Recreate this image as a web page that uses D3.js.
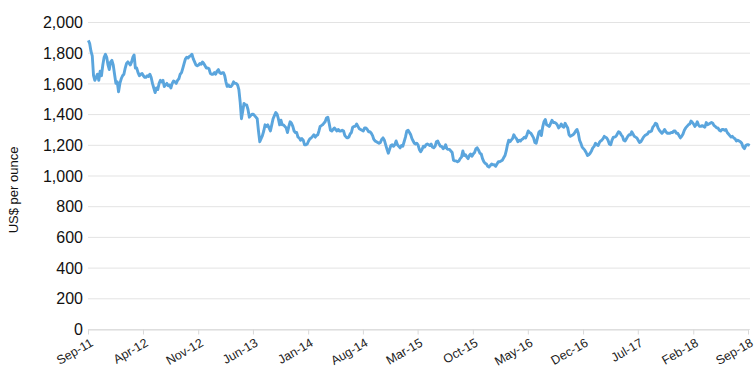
<!DOCTYPE html>
<html>
<head>
<meta charset="utf-8">
<script src="https://cdn.jsdelivr.net/npm/d3@7"></script>
<style>
  html, body { margin: 0; padding: 0; background: #fff; }
  svg { display: block; font-family: "Liberation Sans", Arial, sans-serif; }
</style>
</head>
<body>
<svg id="chart" width="754" height="374"></svg>
<script>
// ---- Data (gold price, US$ per ounce) ----
const startMonth = "2011-09";
// price samples per month, in order (Sep 2011 .. Sep 2018)
const monthlyPrices = [
  // 2011
  [1880, 1860, 1810, 1780, 1650, 1620],
  [1640, 1660, 1620, 1680, 1650, 1720],
  [1770, 1790, 1770, 1720, 1690, 1740],
  [1750, 1720, 1660, 1600, 1610, 1545],
  // 2012
  [1600, 1630, 1650, 1660, 1700, 1730],
  [1740, 1730, 1720, 1740, 1770, 1785],
  [1700, 1700, 1670, 1650, 1660, 1665],
  [1650, 1640, 1640, 1650, 1645, 1660],
  [1640, 1600, 1570, 1540, 1570, 1560],
  [1600, 1620, 1610, 1620, 1580, 1590],
  [1600, 1585, 1590, 1570, 1600, 1615],
  [1610, 1600, 1620, 1630, 1660, 1670],
  [1700, 1730, 1760, 1770, 1765, 1775],
  [1780, 1790, 1760, 1740, 1720, 1715],
  [1720, 1730, 1725, 1740, 1730, 1715],
  [1700, 1700, 1695, 1665, 1660, 1660],
  // 2013
  [1670, 1660, 1680, 1690, 1670, 1665],
  [1670, 1670, 1650, 1610, 1580, 1590],
  [1580, 1580, 1590, 1610, 1600, 1600],
  [1590, 1560, 1480, 1370, 1420, 1470],
  [1460, 1460, 1430, 1380, 1390, 1400],
  [1400, 1390, 1380, 1370, 1290, 1220],
  [1240, 1260, 1290, 1330, 1320, 1330],
  [1310, 1290, 1330, 1370, 1390, 1410],
  [1400, 1370, 1330, 1360, 1330, 1330],
  [1320, 1310, 1280, 1320, 1350, 1340],
  [1320, 1290, 1280, 1280, 1250, 1245],
  [1230, 1240, 1230, 1200, 1200, 1205],
  // 2014
  [1225, 1240, 1245, 1255, 1265, 1250],
  [1260, 1265, 1290, 1320, 1325, 1330],
  [1340, 1350, 1375, 1380, 1340, 1295],
  [1290, 1300, 1310, 1300, 1290, 1300],
  [1290, 1290, 1295, 1290, 1260, 1250],
  [1245, 1250, 1270, 1280, 1315, 1320],
  [1320, 1335, 1320, 1305, 1300, 1295],
  [1290, 1310, 1310, 1300, 1285, 1285],
  [1275, 1260, 1235, 1225, 1220, 1215],
  [1210, 1215, 1235, 1245, 1230, 1200],
  [1170, 1145, 1170, 1195, 1200, 1190],
  [1200, 1225, 1200, 1190, 1180, 1195],
  // 2015
  [1190, 1220, 1250, 1290, 1295, 1280],
  [1265, 1240, 1225, 1210, 1205, 1210],
  [1200, 1170, 1155, 1170, 1190, 1185],
  [1200, 1205, 1200, 1195, 1205, 1185],
  [1180, 1190, 1220, 1225, 1205, 1190],
  [1190, 1175, 1180, 1200, 1175, 1170],
  [1170, 1160, 1150, 1100, 1095, 1095],
  [1090, 1095, 1110, 1120, 1160, 1130],
  [1135, 1120, 1110, 1130, 1140, 1125],
  [1140, 1150, 1175, 1180, 1165, 1145],
  [1140, 1110, 1090, 1080, 1075, 1060],
  [1055, 1065, 1075, 1070, 1070, 1060],
  // 2016
  [1075, 1090, 1090, 1095, 1100, 1115],
  [1130, 1160, 1200, 1230, 1220, 1230],
  [1240, 1265, 1250, 1240, 1220, 1230],
  [1225, 1235, 1240, 1250, 1245, 1265],
  [1290, 1280, 1275, 1260, 1245, 1215],
  [1210, 1245, 1280, 1290, 1260, 1315],
  [1350, 1365, 1330, 1325, 1320, 1340],
  [1360, 1345, 1345, 1340, 1330, 1310],
  [1320, 1335, 1320, 1315, 1340, 1325],
  [1310, 1265, 1255, 1260, 1265, 1275],
  [1290, 1300, 1275, 1230, 1210, 1185],
  [1175, 1165, 1150, 1130, 1135, 1145],
  // 2017
  [1160, 1180, 1190, 1210, 1200, 1195],
  [1215, 1225, 1230, 1240, 1255, 1250],
  [1245, 1230, 1205, 1200, 1230, 1250],
  [1250, 1255, 1270, 1285, 1280, 1265],
  [1255, 1230, 1225, 1240, 1255, 1265],
  [1265, 1285, 1270, 1255, 1250, 1245],
  [1230, 1215, 1220, 1235, 1250, 1260],
  [1265, 1270, 1285, 1285, 1290, 1315],
  [1325, 1340, 1335, 1310, 1295, 1285],
  [1275, 1285, 1300, 1285, 1275, 1275],
  [1275, 1280, 1280, 1290, 1290, 1275],
  [1275, 1260, 1245, 1255, 1270, 1295],
  // 2018
  [1310, 1320, 1330, 1335, 1355, 1345],
  [1335, 1320, 1330, 1350, 1330, 1320],
  [1320, 1325, 1320, 1315, 1345, 1330],
  [1335, 1340, 1345, 1340, 1325, 1320],
  [1310, 1310, 1295, 1290, 1300, 1300],
  [1295, 1300, 1280, 1270, 1260, 1250],
  [1255, 1245, 1240, 1225, 1230, 1225],
  [1220, 1210, 1185, 1175, 1195, 1200],
  [1200, 1195]
];
const xTickLabels = ["Sep-11","Apr-12","Nov-12","Jun-13","Jan-14","Aug-14","Mar-15",
                     "Oct-15","May-16","Dec-16","Jul-17","Feb-18","Sep-18"];
const yTicks = [0, 200, 400, 600, 800, 1000, 1200, 1400, 1600, 1800, 2000];
const yLabel = "US$ per ounce";

// ---- Build dated series ----
const parseMonth = d3.timeParse("%Y-%m");
const parseTick = d3.timeParse("%b-%y");
const m0 = parseMonth(startMonth);
const series = [];
monthlyPrices.forEach((vals, i) => {
  const ms = d3.timeMonth.offset(m0, i);
  const me = d3.timeMonth.offset(m0, i + 1);
  const span = (vals.length < 6 ? 10 * 86400000 : (me - ms));
  vals.forEach((v, j) => {
    const t = new Date(+ms + span * (j + 0.3) / vals.length);
    series.push({ date: t, value: v });
  });
});

// ---- Layout ----
const svg = d3.select("#chart");
const mLeft = 88, mRight = 748, mTop = 22, mBottom = 329;

const x = d3.scaleTime()
  .domain([parseTick(xTickLabels[0]), parseTick(xTickLabels[xTickLabels.length - 1])])
  .range([mLeft, mRight]);
const y = d3.scaleLinear().domain([0, 2000]).range([mBottom, mTop]);

// gridlines
svg.append("g")
  .selectAll("line")
  .data(yTicks)
  .join("line")
  .attr("x1", mLeft).attr("x2", 750)
  .attr("y1", d => y(d) + 0.5).attr("y2", d => y(d) + 0.5)
  .attr("stroke", "#e3e3e3").attr("stroke-width", 1);

// y axis labels
const yAxis = d3.axisLeft(y).tickValues(yTicks).tickFormat(d3.format(",")).tickSize(0).tickPadding(5);
const gy = svg.append("g").attr("transform", `translate(${mLeft},0.5)`).call(yAxis);
gy.select(".domain").remove();
gy.selectAll("text").attr("font-size", 16).attr("fill", "#111")
  .attr("font-family", "'Liberation Sans', Arial, sans-serif");

// x axis
const xTickDates = xTickLabels.map(parseTick);
const xAxis = d3.axisBottom(x).tickValues(xTickDates)
  .tickFormat((d, i) => xTickLabels[i]).tickSize(5).tickSizeOuter(0);
const gx = svg.append("g").attr("transform", `translate(0,${mBottom + 0.5})`).call(xAxis);
gx.select(".domain").attr("stroke", "#d9d9d9");
gx.selectAll(".tick line").attr("stroke", "#d9d9d9");
gx.selectAll("text")
  .attr("font-size", 12.5)
  .attr("fill", "#222")
  .attr("font-family", "'Liberation Sans', Arial, sans-serif")
  .attr("text-anchor", "end")
  .attr("y", 0).attr("dy", "0.71em")
  .attr("transform", "translate(1,8) rotate(-30)");

// y label
svg.append("text")
  .attr("transform", "translate(18,190) rotate(-90)")
  .attr("text-anchor", "middle")
  .attr("font-size", 13)
  .attr("fill", "#111")
  .text(yLabel);

// line
const line = d3.line().x(d => x(d.date)).y(d => y(d.value));
svg.append("path")
  .datum(series)
  .attr("fill", "none")
  .attr("stroke", "#5aa5dd")
  .attr("stroke-width", 2.9)
  .attr("stroke-linejoin", "round")
  .attr("d", line);
</script>
</body>
</html>
